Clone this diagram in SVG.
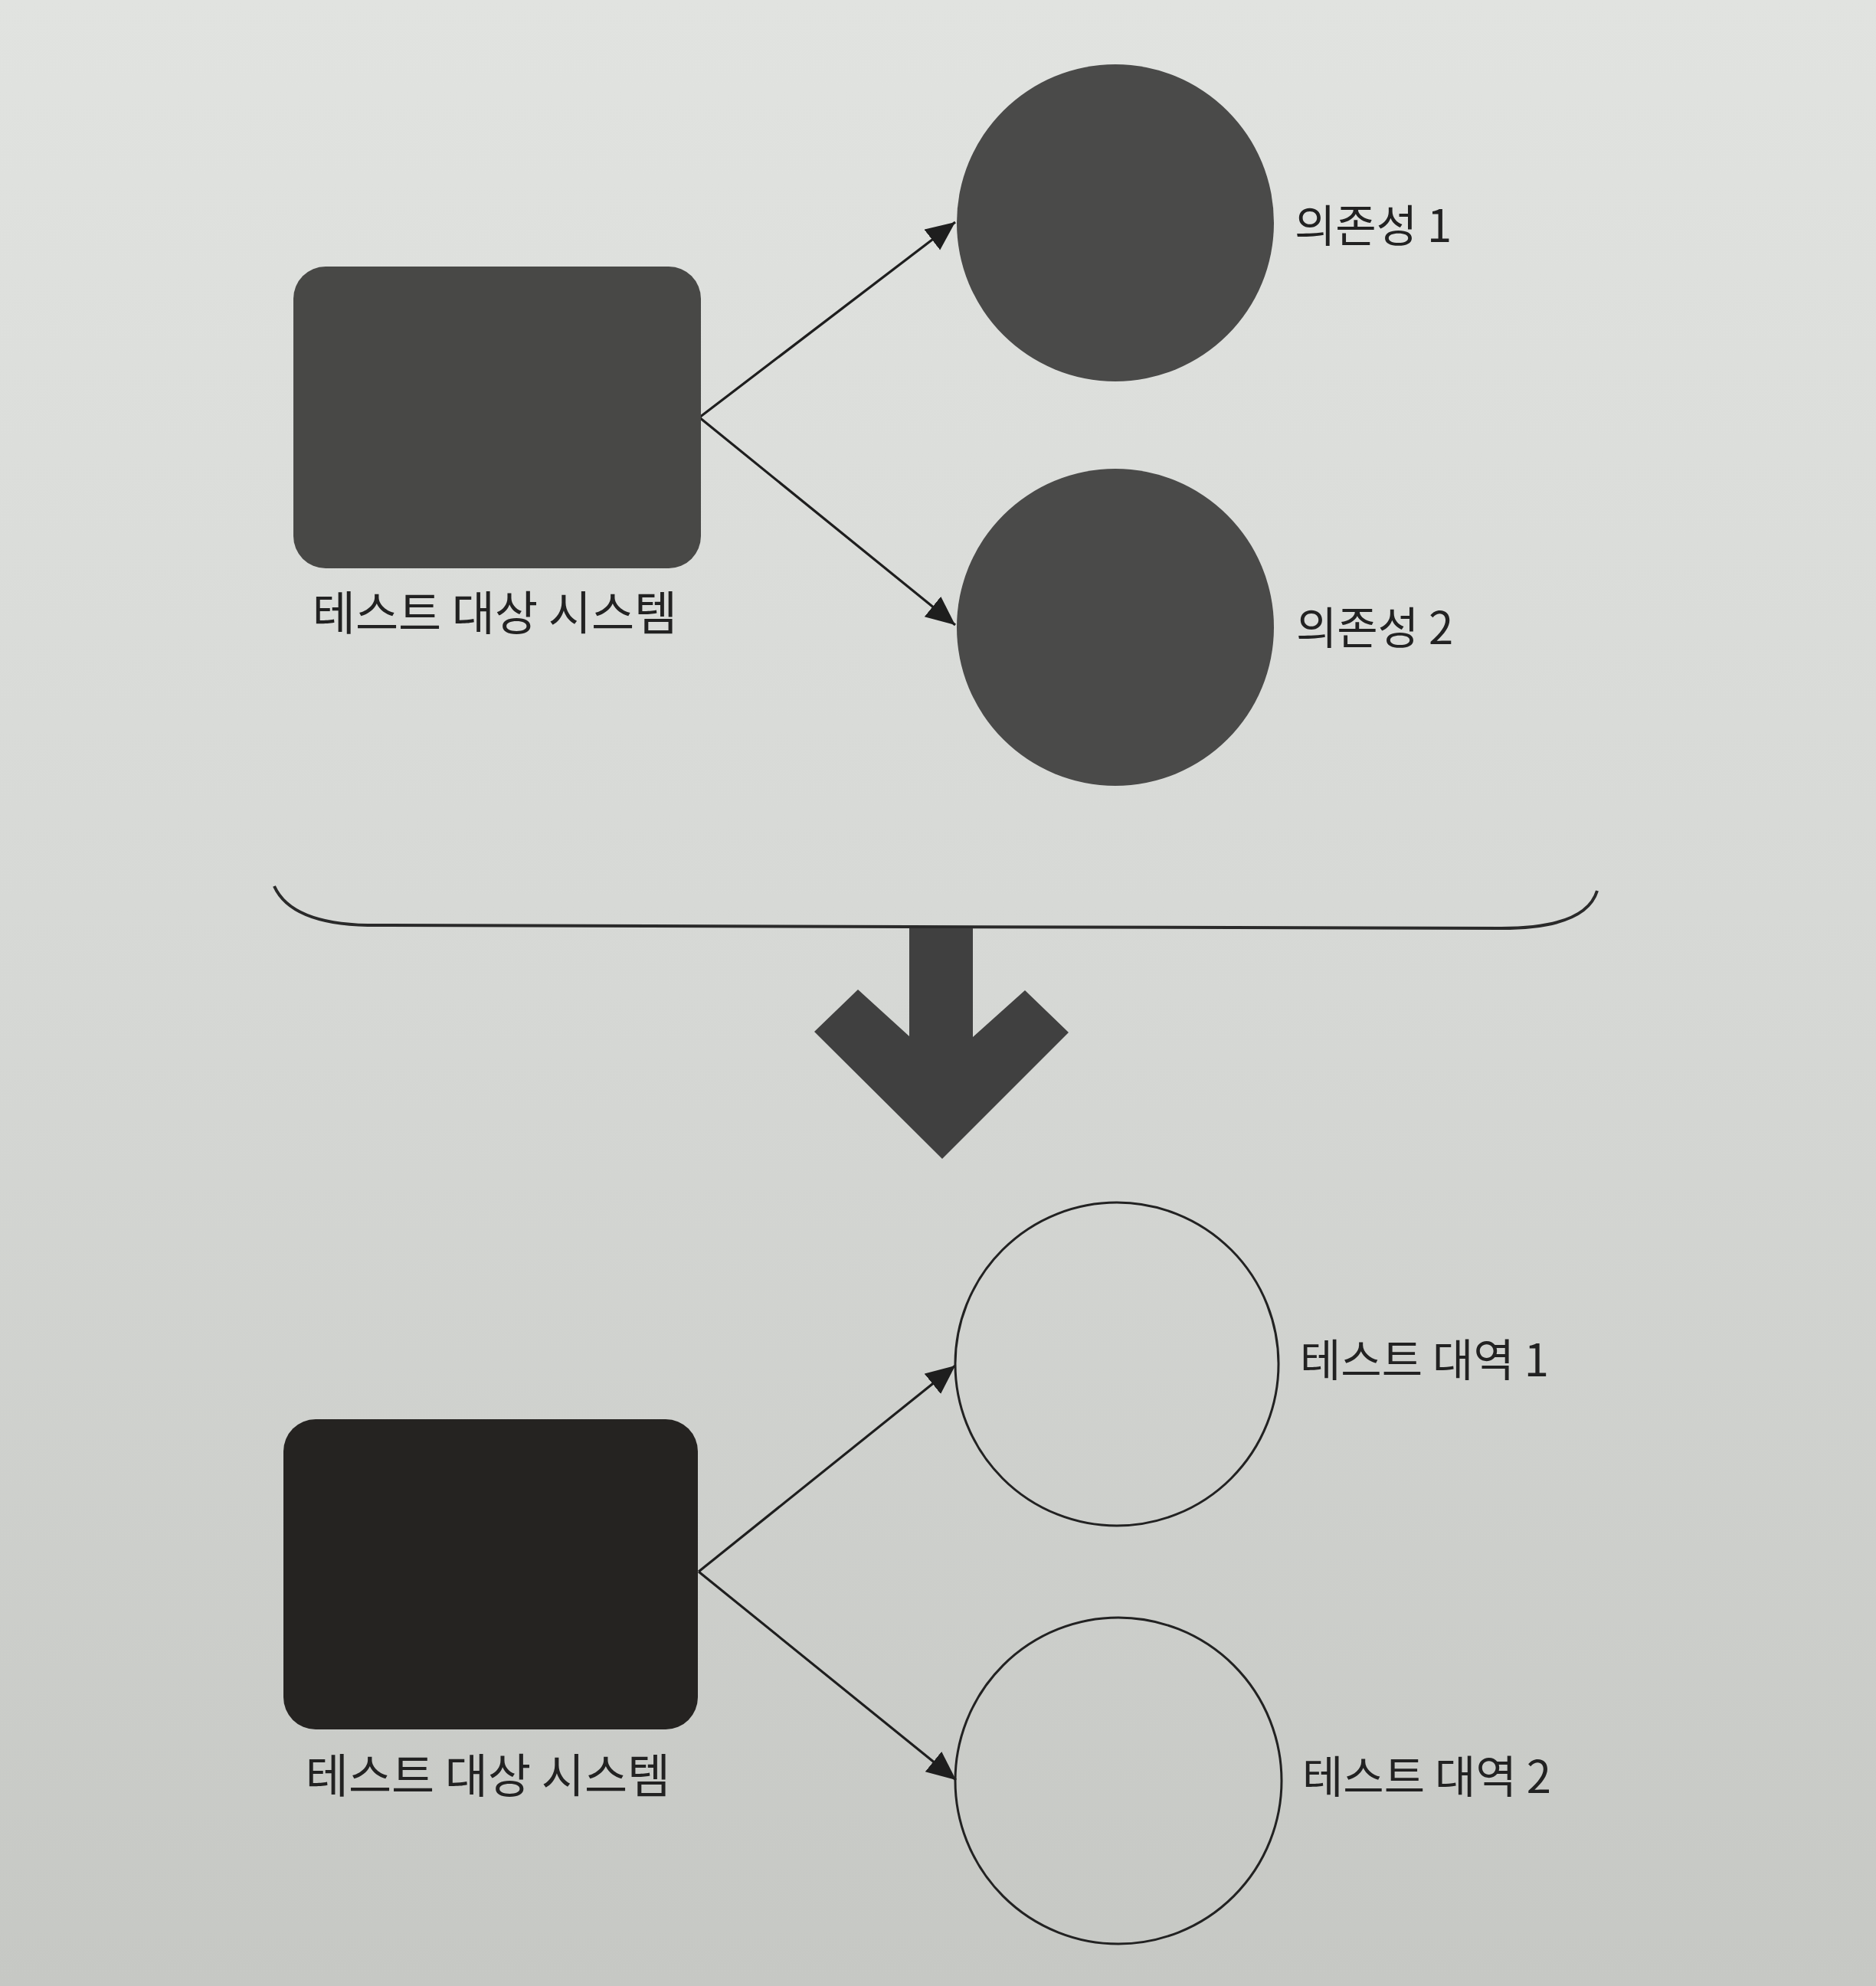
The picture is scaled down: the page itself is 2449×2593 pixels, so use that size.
<svg xmlns="http://www.w3.org/2000/svg" width="2449" height="2593" viewBox="0 0 2449 2593">
  <defs>
    <linearGradient id="paper" x1="0" y1="0" x2="0" y2="1">
      <stop offset="0" stop-color="#e1e3e0"/>
      <stop offset="0.5" stop-color="#d6d8d5"/>
      <stop offset="1" stop-color="#c6c8c4"/>
    </linearGradient>
    <marker id="arrow" markerUnits="userSpaceOnUse" markerWidth="42" markerHeight="36" refX="38" refY="17" orient="auto">
      <path d="M0,0 L38,17 L0,34 z" fill="#1e1e1e"/>
    </marker>
    <style>
      .lbl { font-family: "Noto Sans CJK KR", "Noto Sans", sans-serif; font-size: 58px; fill: #222; }
      .sys { font-size: 61px; }
      .edge { stroke: #1e1e1e; stroke-width: 3.2; fill: none; marker-end: url(#arrow); }
      .dep { fill: #4a4a49; }
      .dbl { fill: none; stroke: #222; stroke-width: 3; }
    </style>
  </defs>
  <rect x="0" y="0" width="2449" height="2593" fill="url(#paper)"/>

  <g id="connectors">
    <line class="edge" x1="913" y1="545" x2="1247" y2="290"/>
    <line class="edge" x1="913" y1="545" x2="1247" y2="816"/>
    <line class="edge" x1="912" y1="2052" x2="1247" y2="1783"/>
    <line class="edge" x1="912" y1="2052" x2="1248" y2="2324"/>
  </g>

  <g id="sut-top">
    <rect x="383" y="348" width="532" height="394" rx="42" ry="42" fill="#484846"/>
    <text class="lbl sys" x="646" y="823" text-anchor="middle">테스트 대상 시스템</text>
  </g>
  <g id="dep1">
    <circle class="dep" cx="1456" cy="291" r="207"/>
    <text class="lbl" x="1690" y="316">의존성 1</text>
  </g>
  <g id="dep2">
    <circle class="dep" cx="1456" cy="819" r="207"/>
    <text class="lbl" x="1692" y="841">의존성 2</text>
  </g>

  <g id="transform">
    <path d="M358,1157 Q380,1206 480,1208 L1960,1212 Q2070,1212 2085,1163" fill="none" stroke="#2a2a2a" stroke-width="4"/>
    <polygon points="1187,1212 1270,1212 1270,1354 1338,1293 1395,1348 1230,1513 1063,1347 1120,1292 1187,1353" fill="#404040"/>
  </g>

  <g id="sut-bottom">
    <rect x="370" y="1853" width="541" height="405" rx="42" ry="42" fill="#252321"/>
    <text class="lbl sys" x="637" y="2341" text-anchor="middle">테스트 대상 시스템</text>
  </g>
  <g id="double1">
    <circle class="dbl" cx="1458" cy="1781" r="211"/>
    <text class="lbl" x="1697" y="1797">테스트 대역 1</text>
  </g>
  <g id="double2">
    <circle class="dbl" cx="1460" cy="2325" r="213"/>
    <text class="lbl" x="1700" y="2341">테스트 대역 2</text>
  </g>
</svg>
